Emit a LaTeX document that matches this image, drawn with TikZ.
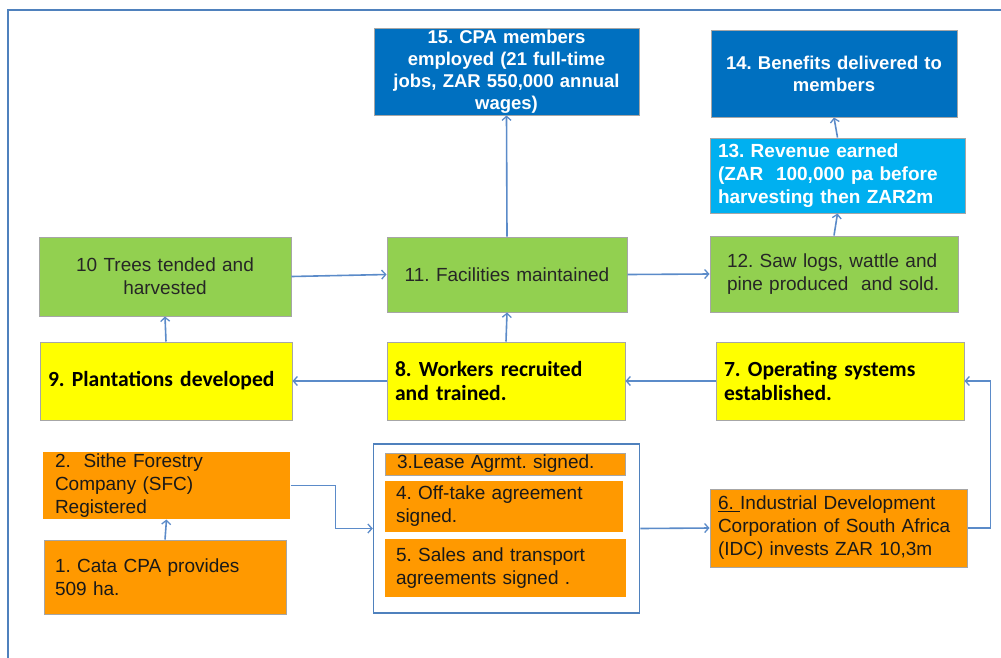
\documentclass[tikz,border=0pt]{standalone}
\usepackage{fontspec}
\setmainfont{Liberation Sans}
\newfontfamily\cbfont{Carlito}
\usetikzlibrary{arrows.meta}
\frenchspacing
\definecolor{dblue}{HTML}{0070C0}
\definecolor{lblue}{HTML}{00B0F0}
\definecolor{lgreen}{HTML}{92D050}
\definecolor{lyellow}{HTML}{FFFF00}
\definecolor{lorange}{HTML}{FF9900}
\definecolor{framec}{HTML}{4F81BD}
\definecolor{arrc}{HTML}{5B8BC9}
\definecolor{boxgray}{HTML}{A6A6A6}
\newcommand\bx[8]{%
  \pgfmathsetmacro\bw{#4-#2}\pgfmathsetmacro\bh{#5-#3}\pgfmathsetmacro\tw{#4-#2-2*#6}%
  \node[#7, inner xsep=#6pt, inner ysep=0pt, minimum width=\bw pt, minimum height=\bh pt, text width=\tw pt] (#1) at ({(#2+#4)/2},{(#3+#5)/2}) {#8};}
\tikzset{
  box/.style={draw=boxgray, line width=1pt, font=\fontsize{19}{23}\selectfont\frenchspacing},
  bluebox/.style={box, fill=dblue, text=white, font=\fontsize{18.5}{22}\selectfont\bfseries\frenchspacing},
  cyanbox/.style={box, fill=lblue, text=white, font=\fontsize{19}{23}\selectfont\bfseries\frenchspacing, align=left},
  greenbox/.style={box, fill=lgreen, text=black!85},
  yellowbox/.style={box, fill=lyellow, text=black, font=\fontsize{21.6}{24}\selectfont\cbfont\bfseries\frenchspacing, align=left},
  orangebox/.style={box, fill=lorange, text=black!90, align=left},
  plainorange/.style={orangebox, draw=none},
  container/.style={draw=framec, line width=1.5pt, fill=white},
  arr/.style={draw=arrc, line width=1.6pt, -{Straight Barb[length=4pt,width=9pt,line width=1.3pt]}},
  frameline/.style={draw=framec, line width=1.5pt}
}
\begin{document}
\begin{tikzpicture}[x=1pt,y=-1pt]
\useasboundingbox (0,0) rectangle (1001,657);
\fill[white] (0,0) rectangle (1001,657);
\draw[frameline] (8,10) rectangle (1030,690);
% top row
\bx{n15}{374}{28}{639}{115}{2}{bluebox, align=center}{15. CPA members\\employed (21 full-time\\jobs, ZAR 550,000 annual\\wages)}
\bx{n14}{711}{30}{957}{117}{2}{bluebox, align=center}{14. Benefits delivered to\\members}
\bx{n13}{710}{138}{965}{213}{8}{cyanbox}{13. Revenue earned\\(ZAR\ \ 100,000 pa before\\harvesting then ZAR2m}
% green row
\bx{n10}{39}{237}{291}{316}{4}{greenbox, align=center}{10 Trees tended and\\harvested}
\bx{n11}{387}{237}{627}{312}{4}{greenbox, align=center}{11. Facilities maintained}
\bx{n12}{710}{236}{958}{312}{17}{greenbox, align=left}{12. Saw logs, wattle and\\pine produced\ \ and sold.}
% yellow row
\bx{n9}{40}{342}{292}{420}{8}{yellowbox}{9. Plantations developed}
\bx{n8}{387}{342}{625}{420}{8}{yellowbox}{8. Workers recruited\\and trained.}
\bx{n7}{716}{342}{964}{420}{8}{yellowbox}{7. Operating systems\\established.}
% orange row
\bx{n2}{43}{452}{290}{519}{12}{plainorange}{2.\ \ Sithe Forestry\\Company (SFC)\\Registered}
\bx{n1}{44}{540}{286}{614}{11}{orangebox}{1. Cata CPA provides\\509 ha.}
\node[container, minimum width=266pt, minimum height=169pt, inner sep=0pt] (cont) at (506.5,528.5) {};
\bx{n3}{385}{453}{625}{475}{12}{orangebox}{3.Lease Agrmt. signed.}
\bx{n4}{385}{481}{623}{532}{11}{plainorange}{4. Off-take agreement\\signed.}
\bx{n5}{385}{539}{626}{597}{11}{plainorange}{5. Sales and transport\\agreements signed .}
\bx{n6}{710}{489}{967}{567}{8}{orangebox}{\underline{6.\ }Industrial Development\\Corporation of South Africa\\(IDC) invests ZAR 10,3m}
% connectors
\draw[arr] (n1.north) -- (n2.south);
\draw[arr] (n2.east) -- ++(45,0) |- (cont.west);
\draw[arr] (cont.east) -- (n6.west);
\draw[arr] (n6.east) -- ++(23,0) |- (n7.east);
\draw[arr] (n7.west) -- (n8.east);
\draw[arr] (n8.west) -- (n9.east);
\draw[arr] (n9.north) -- (n10.south);
\draw[arr] (n8.north) -- (n11.south);
\draw[arr] (n10.east) -- (n11.west);
\draw[arr] (n11.east) -- (n12.west);
\draw[arr] (n11.north) -- (n15.south);
\draw[arr] (n12.north) -- (n13.south);
\draw[arr] (n13.north) -- (n14.south);
\end{tikzpicture}
\end{document}
